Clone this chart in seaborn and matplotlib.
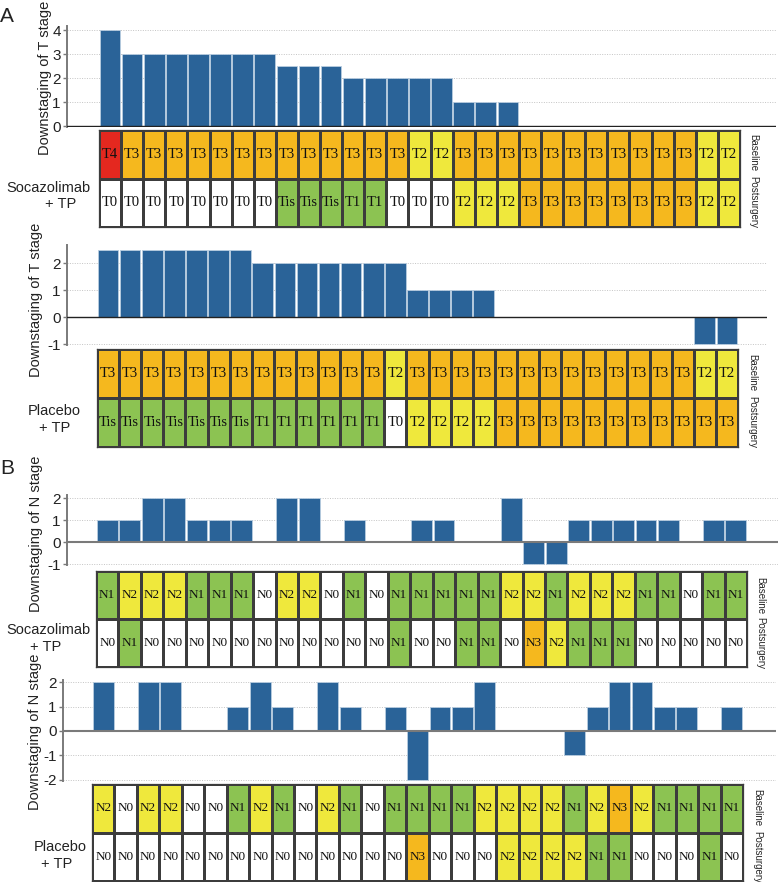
import numpy as np
import matplotlib
matplotlib.use("Agg")
import matplotlib.pyplot as plt
from matplotlib.colors import ListedColormap
import seaborn as sns

# ---------------- data ----------------
socazo_T_base = ["T4"] + ["T3"] * 13 + ["T2", "T2"] + ["T3"] * 11 + ["T2", "T2"]
socazo_T_post = ["T0"] * 8 + ["Tis"] * 3 + ["T1"] * 2 + ["T0"] * 3 + ["T2"] * 3 + ["T3"] * 8 + ["T2"] * 2
socazo_T_down = [4, 3, 3, 3, 3, 3, 3, 3, 2.5, 2.5, 2.5, 2, 2, 2, 2, 2, 1, 1, 1,
                 0, 0, 0, 0, 0, 0, 0, 0, 0, 0]

placebo_T_base = ["T3"] * 13 + ["T2"] + ["T3"] * 13 + ["T2", "T2"]
placebo_T_post = ["Tis"] * 7 + ["T1"] * 6 + ["T0"] + ["T2"] * 4 + ["T3"] * 11
placebo_T_down = [2.5] * 7 + [2] * 7 + [1] * 4 + [0] * 9 + [-1, -1]

socazo_N_base = ["N1", "N2", "N2", "N2", "N1", "N1", "N1", "N0", "N2", "N2", "N0", "N1", "N0",
                 "N1", "N1", "N1", "N1", "N1", "N2", "N2", "N1", "N2", "N2", "N2", "N1", "N1",
                 "N0", "N1", "N1"]
socazo_N_post = ["N0", "N1", "N0", "N0", "N0", "N0", "N0", "N0", "N0", "N0", "N0", "N0", "N0",
                 "N1", "N0", "N0", "N1", "N1", "N0", "N3", "N2", "N1", "N1", "N1", "N0", "N0",
                 "N0", "N0", "N0"]
socazo_N_down = [1, 1, 2, 2, 1, 1, 1, 0, 2, 2, 0, 1, 0, 0, 1, 1, 0, 0, 2, -1, -1, 1, 1, 1, 1, 1,
                 0, 1, 1]

placebo_N_base = ["N2", "N0", "N2", "N2", "N0", "N0", "N1", "N2", "N1", "N0", "N2", "N1", "N0",
                  "N1", "N1", "N1", "N1", "N2", "N2", "N2", "N2", "N1", "N2", "N3", "N2", "N1",
                  "N1", "N1", "N1"]
placebo_N_post = ["N0"] * 14 + ["N3", "N0", "N0", "N0", "N2", "N2", "N2", "N2", "N1", "N1",
                                "N0", "N0", "N0", "N1", "N0"]
placebo_N_down = [2, 0, 2, 2, 0, 0, 1, 2, 1, 0, 2, 1, 0, 1, -2, 1, 1, 2, 0, 0, 0, -1, 1, 2, 2, 1,
                  1, 0, 1]

row_labels = ["Baseline", "Postsurgery"]
group_labels = ["Socazolimab", "Placebo"]

# ---------------- style ----------------
sns.set_style("white")
plt.rcParams["font.family"] = ["Liberation Sans", "DejaVu Sans"]
plt.rcParams["axes.unicode_minus"] = True

W, H = 778, 882
fig = plt.figure(figsize=(W / 100, H / 100), dpi=100)

BLUE = "#2a6398"
STAGE_COLORS = ["#ffffff", "#8cc352", "#efe83c", "#f5b81e", "#e4281f"]
STAGE_IDX = {"T0": 0, "Tis": 1, "T1": 1, "T2": 2, "T3": 3, "T4": 4,
             "N0": 0, "N1": 1, "N2": 2, "N3": 3}
cmap = ListedColormap(STAGE_COLORS)


def px_axes(x0, y0, x1, y1):
    return fig.add_axes([x0 / W, 1 - y1 / H, (x1 - x0) / W, (y1 - y0) / H])


def bar_panel(vals, ax_x0, ax_x1, cell_x0, cw, y0, ppu, ylim, ticks, zcolor, zlw):
    top = y0 - ylim[1] * ppu
    bot = y0 - ylim[0] * ppu
    ax = px_axes(ax_x0, top, ax_x1, bot)
    n = len(vals)
    sns.barplot(x=list(range(n)), y=vals, ax=ax, color=BLUE, width=0.93,
                edgecolor="#b9cde0", linewidth=0.6, saturation=1, zorder=3)
    ax.set_xlim(-0.5 - (cell_x0 - ax_x0) / cw, -0.5 + (ax_x1 - cell_x0) / cw)
    ax.set_ylim(*ylim)
    ax.set_yticks(ticks)
    ax.set_yticklabels([str(t) for t in ticks])
    for t in ticks:
        ax.axhline(t, color="#c4c4c4", lw=0.7, ls=(0, (1, 1.5)), zorder=1)
    ax.axhline(0, color=zcolor, lw=zlw, zorder=4)
    ax.set_xticks([])
    ax.set_xlabel("")
    ax.set_ylabel("")
    for s in ["top", "right", "bottom"]:
        ax.spines[s].set_visible(False)
    ax.spines["left"].set_color("#7a7a7a")
    ax.spines["left"].set_linewidth(1.4)
    ax.tick_params(axis="y", length=3, width=1, color="#7a7a7a", labelsize=11,
                   labelcolor="#222222", pad=1.5, left=True)
    ax.patch.set_alpha(0)
    return ax


def tile_panel(base, post, x0, y0, x1, y1, fsize, lx, ly_base, ly_post):
    ax = px_axes(x0, y0, x1, y1)
    codes = np.array([[STAGE_IDX[s] for s in base], [STAGE_IDX[s] for s in post]])
    labels = np.array([base, post])
    sns.heatmap(codes, ax=ax, cmap=cmap, vmin=-0.5, vmax=4.5, annot=labels, fmt="",
                cbar=False, linewidths=0.8, linecolor="#3c3c3c",
                xticklabels=False, yticklabels=False,
                annot_kws={"color": "#111111", "fontsize": fsize,
                           "fontfamily": "Liberation Serif"})
    for s in ax.spines.values():
        s.set_visible(True)
        s.set_color("#3c3c3c")
        s.set_linewidth(0.9)
    fig.text(lx / W, 1 - ly_base / H, row_labels[0], rotation=-90, ha="center",
             va="center", fontsize=7)
    fig.text(lx / W, 1 - ly_post / H, row_labels[1], rotation=-90, ha="center",
             va="center", fontsize=7)
    return ax


def ftext(x, y, s, **kw):
    fig.text(x / W, 1 - y / H, s, **kw)


# ---------- Panel A, Socazolimab ----------
bar_panel(socazo_T_down, 67, 776, 99, 22.1, 126, 24, (-0.05, 4.15), [0, 1, 2, 3, 4],
          "#222222", 1.0)
tile_panel(socazo_T_base, socazo_T_post, 99, 130, 740, 227, 10.5, 753, 153, 202)
# ---------- Panel A, Placebo ----------
bar_panel(placebo_T_down, 67, 767, 97, 22.1, 317, 27, (-1.05, 2.67), [-1, 0, 1, 2],
          "#222222", 1.0)
tile_panel(placebo_T_base, placebo_T_post, 97, 349, 738, 447, 10.5, 752, 373, 422)
# ---------- Panel B, Socazolimab ----------
bar_panel(socazo_N_down, 67, 778, 96, 22.45, 542, 22, (-1.05, 2.14), [-1, 0, 1, 2],
          "#7a7a7a", 1.5)
tile_panel(socazo_N_base, socazo_N_post, 96, 571, 747, 667, 9.5, 760, 596, 643)
# ---------- Panel B, Placebo ----------
bar_panel(placebo_N_down, 63, 776, 92, 22.45, 731, 24.4, (-2.05, 2.08), [-2, -1, 0, 1, 2],
          "#7a7a7a", 1.5)
tile_panel(placebo_N_base, placebo_N_post, 92, 784, 743, 881, 9.5, 757, 808, 857)

# ---------- y labels ----------
ylab_kw = dict(rotation=90, ha="center", va="center", fontsize=10.5, color="#222222")
ftext(45, 78, "Downstaging of T stage", **ylab_kw)
ftext(36, 300, "Downstaging of T stage", **ylab_kw)
ftext(36, 534, "Downstaging of N stage", **ylab_kw)
ftext(35, 732, "Downstaging of N stage", **ylab_kw)

# ---------- group labels ----------
g_kw = dict(ha="center", va="center", fontsize=10.5, color="#222222")
ftext(48, 188, group_labels[0], **g_kw)
ftext(61, 204, "+ TP", **g_kw)
ftext(54, 411, group_labels[1], **g_kw)
ftext(55, 428, "+ TP", **g_kw)
ftext(48, 630, group_labels[0], **g_kw)
ftext(46, 647, "+ TP", **g_kw)
ftext(60, 847, group_labels[1], **g_kw)
ftext(57, 864, "+ TP", **g_kw)

# ---------- panel letters ----------
ftext(0, 17, "A", ha="left", va="center", fontsize=15, color="#222222")
ftext(0, 469, "B", ha="left", va="center", fontsize=15, color="#222222")

fig.savefig("out.png", dpi=100)
